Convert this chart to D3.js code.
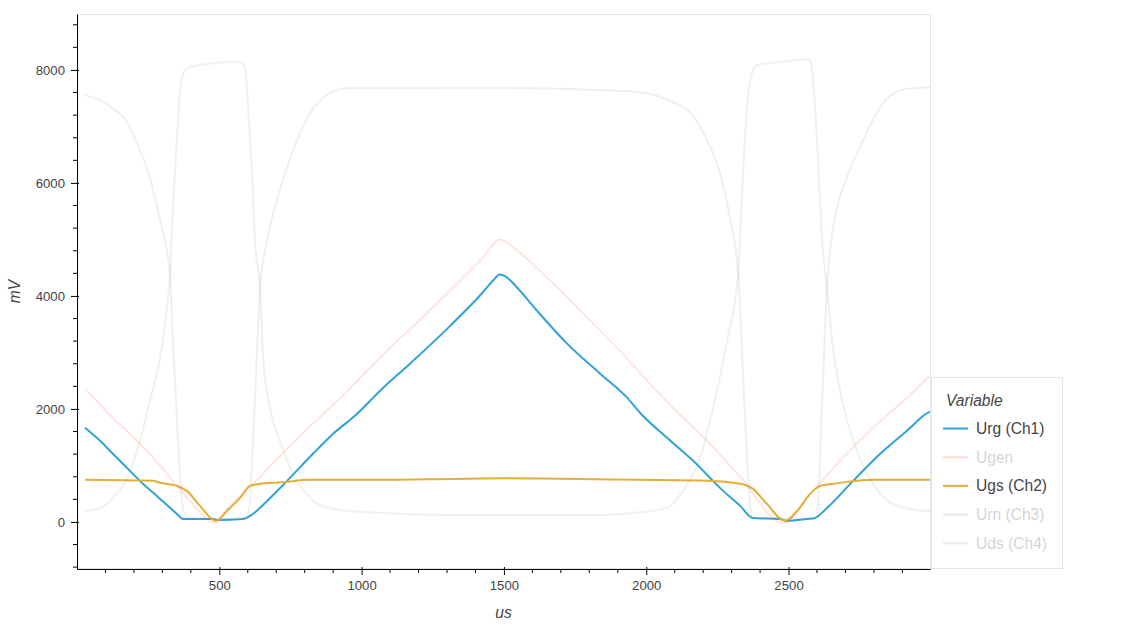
<!DOCTYPE html>
<html>
<head>
<meta charset="utf-8">
<script src="https://cdn.jsdelivr.net/npm/d3@7"></script>
<style>
  html, body { margin: 0; padding: 0; background: #fff; }
  svg { display: block; font-family: "Liberation Sans", Arial, Helvetica, sans-serif; }
</style>
</head>
<body>
<svg id="chart" width="1125" height="625"></svg>
<script>
// ---- data (x in us, y in mV) ----
const xTicks = [500, 1000, 1500, 2000, 2500];
const yTicks = [0, 2000, 4000, 6000, 8000];
const seriesNames = ["Urg (Ch1)", "Ugen", "Ugs (Ch2)", "Urn (Ch3)", "Uds (Ch4)"];
const seriesColors = ["#30a2da", "#fc4f30", "#e5ae38", "#6d904f", "#8b8b8b"];
const seriesMuted = [false, true, false, true, true];

const urg = [[28,1667],[81,1436],[126,1206],[186,904],[221,727],[292,408],[351,142],[372,53],[478,53],[492,35],[583,53],[608,106],[668,372],[738,727],[829,1206],[900,1560],[984,1915],[1030,2145],[1065,2323],[1170,2801],[1311,3470],[1427,4070],[1462,4273],[1486,4380],[1511,4326],[1546,4149],[1616,3741],[1722,3156],[1838,2624],[1933,2199],[1978,1933],[2073,1489],[2165,1082],[2259,603],[2330,284],[2375,71],[2470,53],[2495,18],[2565,53],[2593,71],[2635,248],[2727,727],[2822,1206],[2916,1613],[2990,1933],[2997,1950]];

const ugen = [[28,2358],[126,1844],[246,1259],[351,638],[397,372],[485,-18],[527,230],[618,674],[713,1160],[829,1740],[949,2310],[1075,2960],[1195,3530],[1311,4096],[1427,4681],[1486,5000],[1546,4805],[1662,4273],[1778,3690],[1897,3085],[2013,2447],[2094,2021],[2214,1436],[2330,800],[2481,-18],[2586,550],[2681,1082],[2797,1667],[2916,2199],[2997,2589]];

const ugs = [[28,745],[267,727],[292,692],[351,638],[386,550],[432,284],[488,18],[527,195],[573,426],[608,638],[643,674],[689,692],[738,709],[808,745],[1065,745],[1300,760],[1500,775],[1700,765],[1978,745],[2214,727],[2330,674],[2375,585],[2424,319],[2488,18],[2530,195],[2576,496],[2611,638],[2656,674],[2705,709],[2797,745],[2997,745]];

const urn = [[28,195],[81,248],[126,425],[176,780],[221,1436],[256,2145],[292,2908],[316,3794],[327,4397],[337,5567],[351,6755],[362,7642],[376,7961],[386,8032],[478,8120],[527,8138],[573,8138],[590,8050],[601,7340],[615,6170],[625,4982],[643,4149],[654,2908],[678,2021],[713,1436],[759,851],[819,425],[900,230],[1065,160],[1311,124],[1838,124],[1978,170],[2073,248],[2129,550],[2189,1135],[2235,2021],[2284,3209],[2323,4397],[2337,5869],[2354,7340],[2375,7996],[2389,8085],[2470,8138],[2565,8191],[2576,8174],[2586,7819],[2600,6755],[2618,4982],[2635,4149],[2653,3209],[2681,2323],[2727,1436],[2797,674],[2867,319],[2987,195],[2997,195]];

const uds = [[28,7553],[81,7465],[126,7323],[176,7074],[211,6702],[256,6099],[292,5337],[320,4681],[327,4397],[337,3209],[355,1436],[372,248],[390,70],[480,60],[590,60],[601,90],[625,2145],[643,4149],[668,4982],[713,5869],[759,6578],[819,7234],[889,7589],[949,7677],[1065,7677],[1500,7680],[1800,7650],[1978,7606],[2094,7429],[2154,7252],[2214,6755],[2259,6170],[2294,5390],[2323,4397],[2340,2624],[2354,1135],[2372,70],[2480,60],[2590,60],[2600,90],[2618,2145],[2635,4149],[2648,4900],[2672,5600],[2705,6100],[2762,6755],[2822,7340],[2892,7642],[2987,7695],[2997,7700]];

const allSeries = [urg, ugen, ugs, urn, uds];

// ---- layout ----
const svg = d3.select("#chart");
const plot = { left: 77, top: 14, right: 930, bottom: 569 };

const x = d3.scaleLinear().domain([0, 2997]).range([plot.left, plot.right]);
const y = d3.scaleLinear().domain([-833, 8990]).range([plot.bottom, plot.top]);

svg.append("defs").append("clipPath").attr("id", "clip")
  .append("rect").attr("x", plot.left).attr("y", plot.top)
  .attr("width", plot.right - plot.left).attr("height", plot.bottom - plot.top);

// plot outline
svg.append("rect")
  .attr("x", plot.left + 0.5).attr("y", plot.top + 0.5)
  .attr("width", plot.right - plot.left).attr("height", plot.bottom - plot.top - 1)
  .attr("fill", "none").attr("stroke", "#e5e5e5").attr("stroke-width", 1);

// lines
const line = d3.line().x(d => x(d[0])).y(d => y(d[1])).curve(d3.curveMonotoneX);
const mutedAlpha = [1, 0.15, 1, 0.12, 0.14];
const g = svg.append("g").attr("clip-path", "url(#clip)");
allSeries.forEach((s, i) => {
  g.append("path").datum(s)
    .attr("d", line)
    .attr("fill", "none")
    .attr("stroke", seriesColors[i])
    .attr("stroke-opacity", mutedAlpha[i])
    .attr("stroke-width", 2)
    .attr("stroke-linejoin", "round");
});

// axes
const tickFont = "13.2px";
const fmt = d3.format("d");
const xAxis = d3.axisBottom(x).tickValues(xTicks).tickFormat(fmt).tickSize(6).tickPadding(6).tickSizeOuter(0);
const xg = svg.append("g").attr("transform", `translate(0,${plot.bottom})`).call(xAxis);
const xMinor = d3.range(100, 3000, 100).filter(v => v % 500 !== 0);
xg.selectAll(".minor").data(xMinor).enter().append("line")
  .attr("x1", d => x(d)).attr("x2", d => x(d)).attr("y1", 0).attr("y2", 4)
  .attr("stroke", "#000");

const yAxis = d3.axisLeft(y).tickValues(yTicks).tickFormat(fmt).tickSize(6).tickPadding(6).tickSizeOuter(0);
const yg = svg.append("g").attr("transform", `translate(${plot.left},0)`).call(yAxis);
const yMinor = d3.range(-800, 9000, 400).filter(v => v % 2000 !== 0);
yg.selectAll(".minor").data(yMinor).enter().append("line")
  .attr("y1", d => y(d)).attr("y2", d => y(d)).attr("x1", 0).attr("x2", -4)
  .attr("stroke", "#000");

[xg, yg].forEach(a => {
  a.select(".domain").attr("stroke", "#000");
  a.selectAll(".tick line").attr("stroke", "#000");
  a.selectAll(".tick text").attr("fill", "#444").style("font-size", tickFont)
    .style("font-family", '"Liberation Sans", Arial, sans-serif');
});
// major ticks extend 2px inside
xg.selectAll(".tick line").attr("y1", -2);
yg.selectAll(".tick line").attr("x1", 2);

// axis labels
svg.append("text").attr("x", (plot.left + plot.right) / 2).attr("y", 618)
  .attr("text-anchor", "middle").attr("fill", "#444")
  .style("font-size", "15.6px").style("font-style", "italic").text("us");
svg.append("text")
  .attr("transform", `translate(20,${(plot.top + plot.bottom) / 2}) rotate(-90)`)
  .attr("text-anchor", "middle").attr("fill", "#444")
  .style("font-size", "15.6px").style("font-style", "italic").text("mV");

// legend
const lg = svg.append("g");
lg.append("rect").attr("x", 931.5).attr("y", 377.5).attr("width", 131).attr("height", 191)
  .attr("fill", "#fff").attr("stroke", "#e5e5e5");
lg.append("text").attr("x", 946).attr("y", 406).attr("fill", "#444")
  .style("font-size", "15.6px").style("font-style", "italic").text("Variable");
seriesNames.forEach((name, i) => {
  const cy = 428.5 + i * 28.7;
  lg.append("line").attr("x1", 943).attr("x2", 968).attr("y1", cy).attr("y2", cy)
    .attr("stroke", seriesColors[i]).attr("stroke-width", 2)
    .attr("stroke-opacity", seriesMuted[i] ? 0.2 : 1);
  lg.append("text").attr("x", 976).attr("y", cy + 5.5)
    .attr("fill", "#444").attr("fill-opacity", seriesMuted[i] ? 0.25 : 1)
    .style("font-size", "15.6px").text(name);
});
</script>
</body>
</html>
